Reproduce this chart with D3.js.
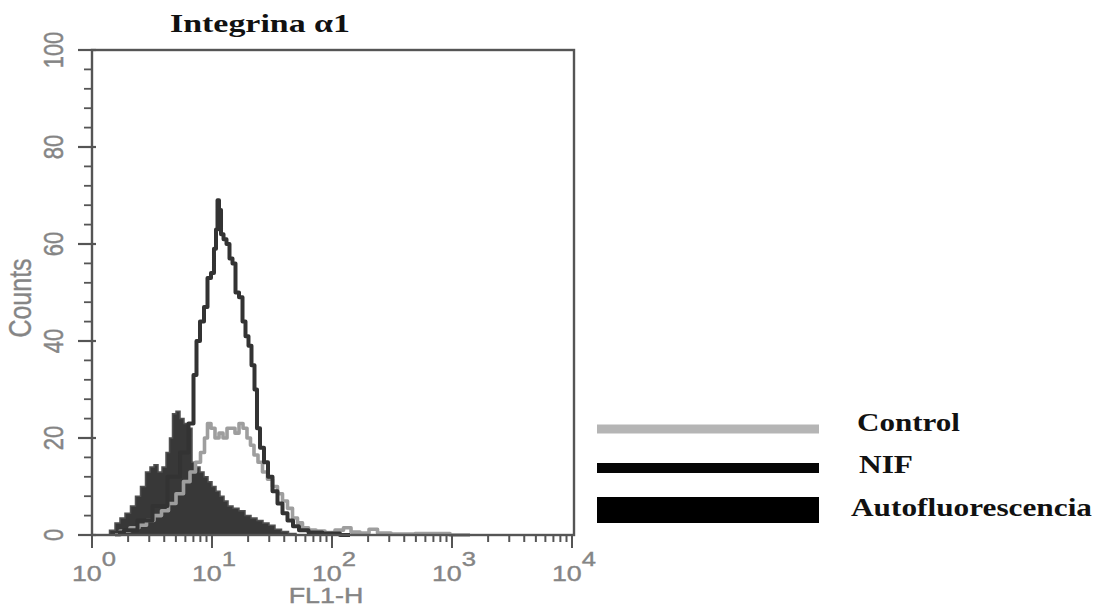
<!DOCTYPE html>
<html>
<head>
<meta charset="utf-8">
<script src="https://cdn.jsdelivr.net/npm/d3@7"></script>
<style>
  html, body { margin: 0; padding: 0; background: #fff; }
  svg { display: block; }
</style>
</head>
<body>
<svg id="chart" width="1096" height="607"></svg>
<script>
// ---- data ----
const titleText = "Integrina \u03b11";
const xTickExponents = [0, 1, 2, 3, 4];
const yTickValues = [0, 20, 40, 60, 80, 100];

// Autofluorescencia (filled)
const autoFL = [1.334, 1.468, 1.647, 1.778, 1.995, 2.196, 2.417, 2.661, 2.929, 3.162, 3.415, 3.687, 3.981, 4.299, 4.553, 4.825, 5.208, 5.623, 6.072, 6.556, 7.079, 7.643, 8.254, 8.913, 9.624, 10.39, 11.22, 12.12, 13.09, 14.13, 15.85, 17.78, 19.95, 22.39, 25.12, 28.18, 31.62, 35.48, 40.58, 46.42, 54.12];
const autoCounts = [0, 1, 2.5, 3.5, 4.5, 6, 8, 10, 13, 14, 14.5, 13, 14, 17, 20, 25, 25.5, 24, 23, 22, 15, 14, 13, 12, 11, 10, 9, 8, 7, 6, 5.5, 5, 4, 3.5, 3, 2.5, 2, 1.2, 0.7, 0.3, 0];

// Control (grey line)
const controlFL = [1.555, 1.884, 2.282, 2.661, 3.043, 3.548, 4.058, 4.642, 5.412, 6.190, 6.946, 7.643, 8.414, 8.913, 9.441, 10.19, 11.01, 11.89, 12.84, 13.86, 14.96, 16.16, 17.45, 18.84, 20.33, 21.54, 23.26, 25.12, 27.65, 30.43, 33.50, 36.87, 40.58, 44.67, 49.18, 54.12, 59.57, 68.13, 79.43, 96.23, 116.6, 133.4, 155.5, 188.4, 219.7, 261.0, 368.7, 655.7, 1413];
const controlCounts = [0, 0.8, 1.5, 2, 3, 4, 5, 6.5, 8.5, 11, 13, 15, 17, 20, 23, 22, 20, 21, 20, 22, 22, 21, 23, 22, 20, 18.5, 16.5, 15, 13, 11.5, 10, 8.5, 7, 5.5, 3.5, 2.5, 1.5, 1, 0.8, 0.5, 1, 1.5, 0.6, 0.4, 1.2, 0.4, 0.2, 0.3, 0];

// NIF (dark line)
const nifFL = [1.647, 2.073, 2.765, 3.687, 4.918, 5.957, 6.813, 7.217, 7.643, 8.254, 8.913, 9.441, 10.19, 10.59, 11.01, 11.22, 11.66, 12.12, 12.84, 13.59, 14.40, 15.25, 16.16, 17.45, 18.48, 19.57, 20.73, 21.96, 23.26, 24.17, 26.10, 28.18, 30.43, 33.50, 36.87, 40.58, 44.67, 50.12, 56.23, 72.16, 96.23, 141.3];
const nifCounts = [0.5, 1, 3, 6, 12, 17, 23, 33, 40, 44, 47, 53, 54, 59, 63, 69, 67, 62, 61, 60, 57, 56, 50, 49, 44, 41, 39, 35, 30, 22, 18, 15, 12, 9, 6.5, 4.5, 3, 1.8, 1, 0.5, 0.3, 0];

const legendLabels = ["Control", "NIF", "Autofluorescencia"];
const legendColors = ["#b5b5b5", "#050505", "#000000"];

// ---- layout ----
const svg = d3.select("#chart");
const pLeft = 92, pRight = 574, pTop = 50, pBottom = 535;
const x = d3.scaleLog().domain([1, 10000]).range([pLeft, pRight - 2]);
const y = d3.scaleLinear().domain([0, 100]).range([pBottom, pTop]);
const SX = 1.22; // horizontal stretch of the original picture's text
const axisGrey = "#858585";
const lineGrey = "#555";

// histograms
const autoData = autoFL.map((v, i) => [v, autoCounts[i]]);
const ctrlData = controlFL.map((v, i) => [v, controlCounts[i]]);
const nifData = nifFL.map((v, i) => [v, nifCounts[i]]);

const area = d3.area().x(d => x(d[0])).y0(y(0)).y1(d => y(d[1])).curve(d3.curveStep);
const line = d3.line().x(d => x(d[0])).y(d => y(d[1])).curve(d3.curveStep);

svg.append("path").datum(autoData).attr("d", area)
  .attr("fill", "#383838").attr("stroke", "#505050").attr("stroke-width", 1.5);
svg.append("path").datum(ctrlData).attr("d", line)
  .attr("fill", "none").attr("stroke", "#9e9e9e").attr("stroke-width", 3.6).attr("stroke-linejoin", "round");
svg.append("path").datum(nifData).attr("d", line)
  .attr("fill", "none").attr("stroke", "#333").attr("stroke-width", 4).attr("stroke-linejoin", "round");

// frame
svg.append("rect").attr("x", pLeft).attr("y", pTop).attr("width", pRight - pLeft).attr("height", pBottom - pTop)
  .attr("fill", "none").attr("stroke", lineGrey).attr("stroke-width", 2.4);

// y ticks
const yMinor = d3.range(0, 101, 4);
svg.append("g").selectAll("line").data(yMinor).join("line")
  .attr("x1", d => (d % 20 === 0 ? 80 : 84)).attr("x2", pLeft)
  .attr("y1", d => y(d)).attr("y2", d => y(d))
  .attr("stroke", lineGrey).attr("stroke-width", 1.8);
svg.append("g").selectAll("line").data(yTickValues).join("line")
  .attr("x1", 78).attr("x2", pLeft + 4)
  .attr("y1", d => y(d)).attr("y2", d => y(d))
  .attr("stroke", lineGrey).attr("stroke-width", 2.2);

svg.append("g").selectAll("text").data(yTickValues).join("text")
  .attr("transform", d => `translate(63,${y(d)}) scale(${SX},1) rotate(-90)`)
  .attr("text-anchor", "middle")
  .attr("font-family", "Liberation Sans, Arial, sans-serif")
  .attr("font-size", 22).attr("fill", axisGrey)
  .attr("stroke", axisGrey).attr("stroke-width", 0.4)
  .text(d => d);

// x ticks (log minors)
const xMinor = [];
for (let e = 0; e < 4; e++) for (let k = 1; k <= 9; k++) xMinor.push(k * Math.pow(10, e));
xMinor.push(10000);
svg.append("g").selectAll("line").data(xMinor).join("line")
  .attr("x1", d => x(d)).attr("x2", d => x(d))
  .attr("y1", pBottom).attr("y2", d => (Math.abs(Math.log10(d) % 1) < 1e-9 ? 548 : 542))
  .attr("stroke", lineGrey).attr("stroke-width", 2);

const xl = svg.append("g").selectAll("text").data(xTickExponents).join("text")
  .attr("transform", d => `translate(${x(Math.pow(10, d)) + 2},581) scale(${SX},1)`)
  .attr("text-anchor", "middle")
  .attr("font-family", "Liberation Sans, Arial, sans-serif")
  .attr("font-size", 22).attr("fill", axisGrey)
  .attr("stroke", axisGrey).attr("stroke-width", 0.4);
xl.append("tspan").text("10");
xl.append("tspan").attr("dy", -15).attr("font-size", 21).text(d => d);

// axis titles
svg.append("text")
  .attr("transform", `translate(326,603) scale(${SX},1)`)
  .attr("text-anchor", "middle")
  .attr("font-family", "Liberation Sans, Arial, sans-serif")
  .attr("font-size", 22).attr("fill", axisGrey)
  .attr("stroke", axisGrey).attr("stroke-width", 0.4)
  .text("FL1-H");
svg.append("text")
  .attr("transform", `translate(31,298) scale(${SX},1) rotate(-90)`)
  .attr("text-anchor", "middle")
  .attr("font-family", "Liberation Sans, Arial, sans-serif")
  .attr("font-size", 25).attr("fill", axisGrey)
  .attr("stroke", axisGrey).attr("stroke-width", 0.3)
  .text("Counts");

// title
svg.append("text")
  .attr("x", 170).attr("y", 32)
  .attr("textLength", 180).attr("lengthAdjust", "spacingAndGlyphs")
  .attr("font-family", "Liberation Serif, Times New Roman, serif")
  .attr("font-weight", "bold").attr("font-size", 26).attr("fill", "#111")
  .text(titleText);

// legend
const legY = [429, 468, 510];
const legH = [9, 10, 26];
const legTextX = [857, 859, 851];
const legTextY = [431, 473, 516];
const legTextW = [103, 54, 241];
const lg = svg.append("g");
legendLabels.forEach((lab, i) => {
  lg.append("rect").attr("x", 597).attr("y", legY[i] - legH[i] / 2)
    .attr("width", 222).attr("height", legH[i]).attr("fill", legendColors[i]);
  lg.append("text").attr("x", legTextX[i]).attr("y", legTextY[i])
    .attr("textLength", legTextW[i]).attr("lengthAdjust", "spacingAndGlyphs")
    .attr("font-family", "Liberation Serif, Times New Roman, serif")
    .attr("font-weight", "bold").attr("font-size", 25).attr("fill", "#111")
    .text(lab);
});
</script>
</body>
</html>
